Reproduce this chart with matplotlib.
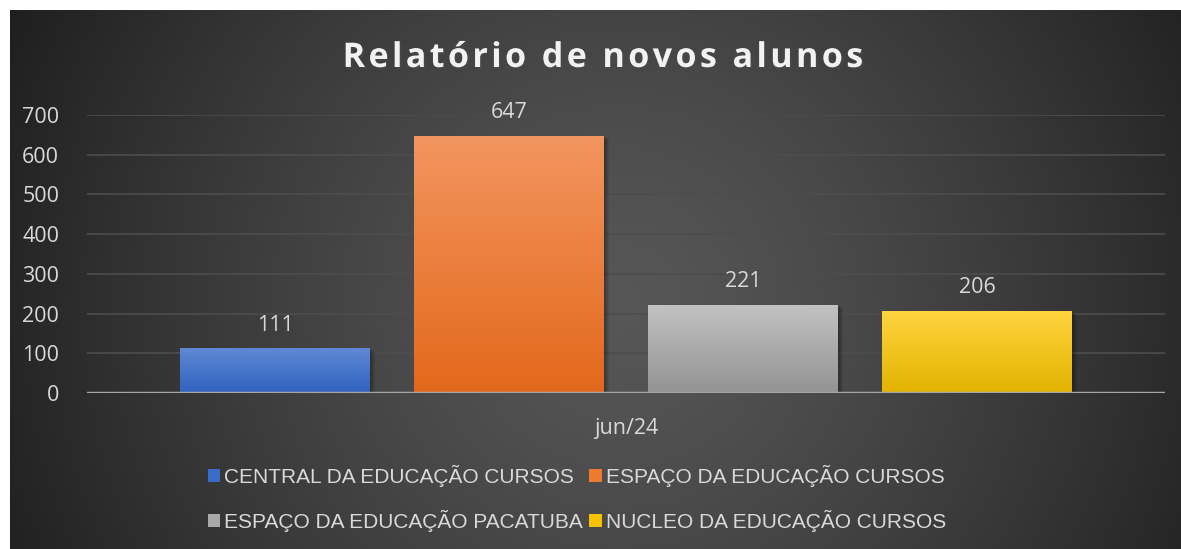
import matplotlib.pyplot as plt
import numpy as np
from matplotlib import font_manager
from matplotlib.patches import Patch
import matplotlib.patheffects as pe

# Data
categories = ['CENTRAL DA EDUCAÇÃO CURSOS', 'ESPAÇO DA EDUCAÇÃO CURSOS',
              'ESPAÇO DA EDUCAÇÃO PACATUBA', 'NUCLEO DA EDUCAÇÃO CURSOS']
values = [111, 647, 221, 206]
period_label = 'jun/24'
y_ticks = [0, 100, 200, 300, 400, 500, 600, 700]
title = 'Relatório de novos alunos'

# Gradient colours per bar (top, bottom)
bar_colors = [('#5f89d3', '#2f62c0'),
              ('#f3955f', '#e3681b'),
              ('#c2c2c2', '#939393'),
              ('#ffd440', '#e3b300')]
legend_colors = ['#3a6cc8', '#ee7a30', '#a9a9a9', '#f7c200']

available = {f.name for f in font_manager.fontManager.ttflist}
legend_font = 'Liberation Sans' if 'Liberation Sans' in available else 'DejaVu Sans'
title_font = 'Open Sans' if 'Open Sans' in available else 'DejaVu Sans'

W, H, DPI = 1181, 549, 100
fig = plt.figure(figsize=(W / DPI, H / DPI), dpi=DPI, facecolor='white')

# Radial gradient background (dark chart area, white strip top/left)
bg = fig.add_axes([10 / W, 0, 1 - 10 / W, 1 - 10 / H])
bg.set_axis_off()
bw, bh = W - 10, H - 10
yy, xx = np.mgrid[0:bh, 0:bw]
cx, cy = bw * 0.52, bh * 0.55
d = np.sqrt((xx - cx) ** 2 + (yy - cy) ** 2)
d = d / d.max()
shade = 0.34 - 0.22 * d ** 1.3
img = np.dstack([shade, shade, shade])
bg.imshow(img, aspect='auto', extent=[0, 1, 0, 1], origin='upper', interpolation='bilinear')
bg.set_xlim(0, 1)
bg.set_ylim(0, 1)

# Plot area: x 87..1165, y 0 at 393, 700 at 115
ax = fig.add_axes([87 / W, (H - 393) / H, (1165 - 87) / W, (393 - 115) / H])
ax.patch.set_alpha(0)
x = np.arange(len(values))
width = 190 / 234
bars = ax.bar(x, values, width=width, color='none', zorder=3)

px = 1 / 234  # one pixel in x data units (approx)
for bar, (top, bottom) in zip(bars, bar_colors):
    x0, y0 = bar.get_x(), bar.get_y()
    w, h = bar.get_width(), bar.get_height()
    # soft shadow on the right side
    for k in range(1, 6):
        ax.add_patch(plt.Rectangle((x0 + k * px, y0), w, h - k * 1.5, color='black',
                                   alpha=0.07, zorder=2, lw=0))
    c1 = np.array(plt.matplotlib.colors.to_rgb(top))
    c2 = np.array(plt.matplotlib.colors.to_rgb(bottom))
    t = np.linspace(0, 1, 100)[:, None]
    grad = (c1 * (1 - t) + c2 * t)[:, None, :]
    ax.imshow(grad, extent=[x0, x0 + w, y0, y0 + h], origin='upper',
              aspect='auto', zorder=4)
    ax.text(bar.get_x() + w / 2, h + 60, f'{int(h)}', ha='center', va='center',
            color='#d9d9d9', fontsize=15.5, family='Open Sans', zorder=5)

ax.set_xlim(-(275.5 - 87) / 234, 3 + (1165 - 977) / 234)
ax.set_ylim(0, 700)
ax.set_yticks(y_ticks)
ax.set_yticklabels([str(v) for v in y_ticks], color='#d9d9d9', fontsize=15.5, family='Open Sans')
ax.tick_params(axis='y', length=0, pad=20)
ax.set_xticks([1.5])
ax.set_xticklabels([period_label], color='#d9d9d9', fontsize=15.5, family='Open Sans')
ax.tick_params(axis='x', length=0, pad=18)
ax.grid(axis='y', color='#4d4d4d', lw=1.2, zorder=0)
ax.axhline(0, color='#a6a6a6', lw=2.5, zorder=6)
for s in ax.spines.values():
    s.set_visible(False)

# Title with letter spacing
spaced = '\u200a'.join(title)
fig.text(602 / W, 1 - 58 / H, spaced, ha='center', va='center', fontsize=24.5,
         fontweight='bold', color='#f2f2f2', family=[title_font, 'DejaVu Sans'],
         path_effects=[pe.withSimplePatchShadow(offset=(1.5, -1.5), alpha=0.6)])

# Legend, filled row by row
order = [0, 2, 1, 3]
handles = [Patch(facecolor=legend_colors[i], edgecolor='none') for i in order]
labels = [categories[i] for i in order]
leg = fig.legend(handles, labels, ncol=2, loc='center',
                 bbox_to_anchor=(577 / W, 1 - 498.5 / H), frameon=False,
                 prop={'family': legend_font, 'size': 15}, labelcolor='#d9d9d9',
                 handlelength=0.6, handleheight=0.6, handletextpad=0.2,
                 columnspacing=0.3, labelspacing=1.1)

fig.savefig('out.png', dpi=DPI, facecolor='white')
